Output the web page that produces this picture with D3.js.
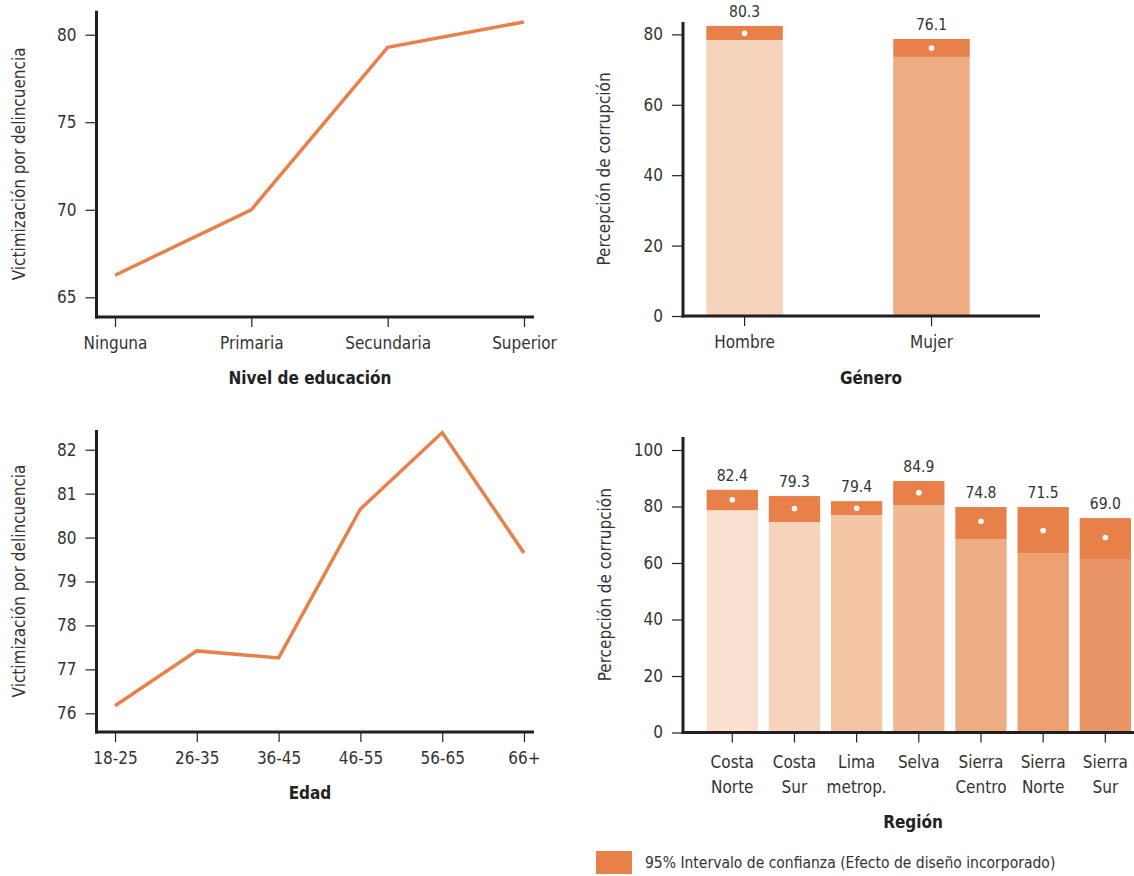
<!DOCTYPE html>
<html>
<head>
<meta charset="utf-8">
<script src="https://cdn.jsdelivr.net/npm/d3@7"></script>
<style>
  html, body { margin: 0; padding: 0; background: #fff; }
  svg { display: block; }
</style>
</head>
<body>
<svg id="chart" width="1134" height="876"></svg>
<script>
// ---------------- DATA ----------------
const education = ["Ninguna", "Primaria", "Secundaria", "Superior"];
const educationValues = [66.26, 70.0, 79.28, 80.73];
const educationTicks = [65, 70, 75, 80];

const ages = ["18-25", "26-35", "36-45", "46-55", "56-65", "66+"];
const ageValues = [76.17, 77.42, 77.26, 80.65, 82.39, 79.65];
const ageTicks = [76, 77, 78, 79, 80, 81, 82];

const genders = ["Hombre", "Mujer"];
const genderMean = [80.3, 76.1];
const genderLow = [78.4, 73.6];
const genderHigh = [82.4, 78.7];

const regions = ["Costa Norte", "Costa Sur", "Lima metrop.", "Selva", "Sierra Centro", "Sierra Norte", "Sierra Sur"];
const regionMean = [82.4, 79.3, 79.4, 84.9, 74.8, 71.5, 69.0];
const regionLow = [78.7, 74.5, 77.0, 80.5, 68.5, 63.5, 61.4];
const regionHigh = [85.9, 83.7, 81.9, 89.0, 79.8, 79.8, 75.9];

const corruptionTicksGender = [0, 20, 40, 60, 80];
const corruptionTicksRegion = [0, 20, 40, 60, 80, 100];

const legendLabel = "95% Intervalo de confianza (Efecto de diseño incorporado)";

// ---------------- STYLE ----------------
const FONT = '"DejaVu Sans Condensed", "DejaVu Sans", sans-serif';
const TEXT = "#333333";
const AXIS = "#231f20";
const ORANGE = "#E8804A";
const genderColors = ["#F6D4BC", "#EEAC85"];
const regionColors = ["#F9E0CF", "#F6D3BA", "#F3C5A5", "#F1B894", "#EEAC83", "#ECA072", "#E99565"];
const TICK_FS = 17;

const svg = d3.select("#chart");

function styleAxis(g, fs) {
  g.select(".domain").remove();
  g.selectAll(".tick line").attr("stroke", AXIS).attr("stroke-width", 1.2);
  g.selectAll(".tick text").attr("fill", TEXT).style("font-family", FONT).style("font-size", fs + "px");
}

function axisLines(x0, x1, yTop, yBot) {
  svg.append("line").attr("x1", x0).attr("x2", x0).attr("y1", yTop).attr("y2", yBot + 1.5)
    .attr("stroke", AXIS).attr("stroke-width", 3);
  svg.append("line").attr("x1", x0 - 1.5).attr("x2", x1).attr("y1", yBot).attr("y2", yBot)
    .attr("stroke", AXIS).attr("stroke-width", 3);
}

function yLabel(text, x, y) {
  svg.append("text").attr("transform", `translate(${x},${y}) rotate(-90)`)
    .attr("text-anchor", "middle").attr("dominant-baseline", "central")
    .attr("fill", TEXT).style("font-family", FONT).style("font-size", "17px").text(text);
}

function xTitle(text, x, y) {
  svg.append("text").attr("x", x).attr("y", y).attr("text-anchor", "middle")
    .attr("fill", "#222").style("font-family", FONT).style("font-size", "17px")
    .style("font-weight", "bold").text(text);
}

const intFmt = d3.format("d");

// ---------------- PANEL A: education line ----------------
(function () {
  const L = { x0: 96.5, x1: 534, top: 10.7, bot: 317 };
  const x = d3.scalePoint().domain(education).range([115, 524]);
  const y = d3.scaleLinear().domain([63.874, 81.371]).range([L.bot, L.top]);

  svg.append("g").attr("transform", `translate(${L.x0},0)`)
    .call(d3.axisLeft(y).tickValues(educationTicks).tickFormat(intFmt).tickSize(11).tickPadding(9))
    .call(g => styleAxis(g, TICK_FS));
  svg.append("g").attr("transform", `translate(0,${L.bot})`)
    .call(d3.axisBottom(x).tickSize(10).tickPadding(10))
    .call(g => styleAxis(g, TICK_FS));

  const line = d3.line().x((d, i) => x(education[i])).y(d => y(d));
  svg.append("path").datum(educationValues).attr("d", line)
    .attr("fill", "none").attr("stroke", ORANGE).attr("stroke-width", 3.5).attr("stroke-linejoin", "miter");

  axisLines(L.x0, L.x1, L.top, L.bot);
  yLabel("Victimización por delincuencia", 19, (L.top + L.bot) / 2);
  xTitle("Nivel de educación", 310, 384);
})();

// ---------------- PANEL C: age line ----------------
(function () {
  const L = { x0: 96.5, x1: 534, top: 430, bot: 732 };
  const x = d3.scalePoint().domain(ages).range([115, 524]);
  const y = d3.scaleLinear().domain([75.574, 82.449]).range([L.bot, L.top]);

  svg.append("g").attr("transform", `translate(${L.x0},0)`)
    .call(d3.axisLeft(y).tickValues(ageTicks).tickFormat(intFmt).tickSize(11).tickPadding(9))
    .call(g => styleAxis(g, TICK_FS));
  svg.append("g").attr("transform", `translate(0,${L.bot})`)
    .call(d3.axisBottom(x).tickSize(10).tickPadding(10))
    .call(g => styleAxis(g, TICK_FS));

  const line = d3.line().x((d, i) => x(ages[i])).y(d => y(d));
  svg.append("path").datum(ageValues).attr("d", line)
    .attr("fill", "none").attr("stroke", ORANGE).attr("stroke-width", 3.5).attr("stroke-linejoin", "miter");

  axisLines(L.x0, L.x1, L.top, L.bot);
  yLabel("Victimización por delincuencia", 19, (L.top + L.bot) / 2);
  xTitle("Edad", 310, 799);
})();

// ---------------- bar panel helper ----------------
function barPanel(cfg) {
  const { cats, mean, low, high, colors, L, x, y, ticks, labelMulti } = cfg;

  svg.append("g").attr("transform", `translate(${L.x0},0)`)
    .call(d3.axisLeft(y).tickValues(ticks).tickFormat(intFmt).tickSize(11).tickPadding(9))
    .call(g => styleAxis(g, TICK_FS));

  const xa = svg.append("g").attr("transform", `translate(0,${L.bot})`)
    .call(d3.axisBottom(x).tickSize(10).tickPadding(10))
    .call(g => styleAxis(g, TICK_FS));

  if (labelMulti) {
    xa.selectAll(".tick text").each(function (d) {
      const t = d3.select(this);
      const words = d.split(" ");
      t.text(null).attr("dy", null).attr("y", null);
      words.forEach((w, i) => {
        t.append("tspan").attr("x", 0).attr("y", 35 + i * 25.5).text(w);
      });
    });
  }

  const g = svg.append("g");
  cats.forEach((c, i) => {
    const bx = x(c), bw = x.bandwidth();
    g.append("rect").attr("x", bx).attr("width", bw)
      .attr("y", y(low[i])).attr("height", y(0) - y(low[i])).attr("fill", colors[i]);
    g.append("rect").attr("x", bx).attr("width", bw)
      .attr("y", y(high[i])).attr("height", y(low[i]) - y(high[i])).attr("fill", ORANGE);
    g.append("circle").attr("cx", bx + bw / 2).attr("cy", y(mean[i])).attr("r", 2.8).attr("fill", "#fff");
    g.append("text").attr("x", bx + bw / 2).attr("y", y(high[i]) - 9)
      .attr("text-anchor", "middle").attr("fill", TEXT)
      .style("font-family", FONT).style("font-size", "15.5px").text(mean[i].toFixed(1));
  });

  axisLines(L.x0, L.x1, L.top, L.bot);
}

// ---------------- PANEL B: gender bars ----------------
(function () {
  const L = { x0: 683, x1: 1040, top: 22, bot: 316 };
  const x = d3.scaleBand().domain(genders).range([651.1, 1025]).paddingInner(0.591).paddingOuter(0.2955);
  const y = d3.scaleLinear().domain([0, 83.52]).range([L.bot, L.top]);
  barPanel({ cats: genders, mean: genderMean, low: genderLow, high: genderHigh, colors: genderColors,
    L, x, y, ticks: corruptionTicksGender, labelMulti: false });
  yLabel("Percepción de corrupción", 604, (L.top + L.bot) / 2);
  xTitle("Género", 871, 384);
})();

// ---------------- PANEL D: region bars ----------------
(function () {
  const L = { x0: 683, x1: 1134, top: 437, bot: 732.5 };
  const x = d3.scaleBand().domain(regions).range([701.2, 1136.4]).paddingInner(0.175).paddingOuter(0.0875);
  const y = d3.scaleLinear().domain([0, 104.6]).range([L.bot, L.top]);
  barPanel({ cats: regions, mean: regionMean, low: regionLow, high: regionHigh, colors: regionColors,
    L, x, y, ticks: corruptionTicksRegion, labelMulti: true });
  yLabel("Percepción de corrupción", 605, (L.top + L.bot) / 2);
  xTitle("Región", 913, 828);
})();

// ---------------- LEGEND ----------------
svg.append("rect").attr("x", 596).attr("y", 851).attr("width", 36).attr("height", 23).attr("fill", ORANGE);
svg.append("text").attr("x", 645).attr("y", 868).attr("fill", TEXT)
  .style("font-family", FONT).style("font-size", "15.5px").text(legendLabel);
</script>
</body>
</html>
